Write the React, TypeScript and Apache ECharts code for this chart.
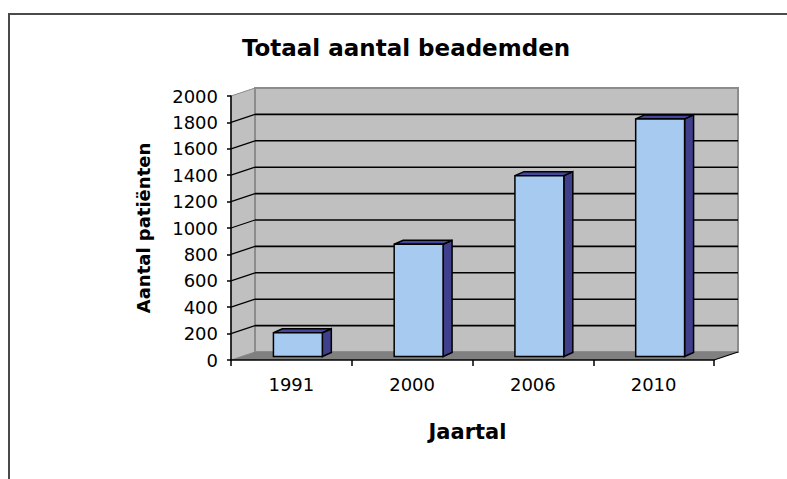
import React, { useEffect, useRef } from 'react';
import * as echarts from 'echarts';

const categories = ['1991', '2000', '2006', '2010'];
const patients = [180, 850, 1370, 1800];
const yTicks = [0, 200, 400, 600, 800, 1000, 1200, 1400, 1600, 1800, 2000];
const chartTitle = 'Totaal aantal beademden';
const xTitle = 'Jaartal';
const yTitle = 'Aantal patiënten';

const DX = 24;
const DY = -8;
const BAR_OX = 6.5;
const BAR_OY = -3.5;
const BAR_DX = 9;
const BAR_DY = -4;
const FONT = 'DejaVu Sans';

export default function App() {
  const ref = useRef<HTMLDivElement>(null);
  useEffect(() => {
    if (!ref.current) return;
    const chart = echarts.init(ref.current, null, { renderer: 'svg' });

    const renderWalls = (params: any, api: any) => {
      const cs = params.coordSys;
      const x0 = cs.x;
      const x1 = cs.x + cs.width;
      const yb = api.coord([0, yTicks[0]])[1];
      const yt = api.coord([0, yTicks[yTicks.length - 1]])[1];
      const children: any[] = [];
      children.push({
        type: 'polygon',
        shape: { points: [[x0, yb], [x0 + DX, yb + DY], [x0 + DX, yt + DY], [x0, yt]] },
        style: { fill: '#c0c0c0', stroke: '#8c8c8c', lineWidth: 1 },
      });
      children.push({
        type: 'polygon',
        shape: { points: [[x0 + DX, yt + DY], [x1 + DX, yt + DY], [x1 + DX, yb + DY], [x0 + DX, yb + DY]] },
        style: { fill: '#c0c0c0', stroke: '#8c8c8c', lineWidth: 2 },
      });
      children.push({
        type: 'polygon',
        shape: { points: [[x0, yb], [x1, yb], [x1 + DX, yb + DY], [x0 + DX, yb + DY]] },
        style: { fill: '#808080' },
      });
      for (let k = 1; k < yTicks.length - 1; k++) {
        const y = api.coord([0, yTicks[k]])[1];
        children.push({
          type: 'line',
          shape: { x1: x0 + DX, y1: y + DY, x2: x1 + DX, y2: y + DY },
          style: { stroke: '#000', lineWidth: 1.6 },
        });
        children.push({
          type: 'line',
          shape: { x1: x0, y1: y, x2: x0 + DX, y2: y + DY },
          style: { stroke: '#000', lineWidth: 1.3 },
        });
      }
      children.push({
        type: 'line',
        shape: { x1: x1, y1: yb, x2: x1 + DX, y2: yb + DY },
        style: { stroke: '#000', lineWidth: 1.3 },
      });
      return { type: 'group', children };
    };

    const renderBar = (params: any, api: any) => {
      const idx = api.value(0);
      const v = api.value(1);
      const base = api.coord([idx, 0]);
      const top = api.coord([idx, v]);
      const bw = api.size([1, 0])[0] * 0.405;
      const cx = base[0] + BAR_OX;
      const xl = cx - bw / 2;
      const xr = cx + bw / 2;
      const yb = base[1] + BAR_OY;
      const yt = top[1] + BAR_OY;
      const stroke = { stroke: '#000', lineWidth: 1.5, lineJoin: 'miter' };
      return {
        type: 'group',
        children: [
          {
            type: 'polygon',
            shape: { points: [[xr, yt], [xr + BAR_DX, yt + BAR_DY], [xr + BAR_DX, yb + BAR_DY], [xr, yb]] },
            style: { fill: '#3f3f8c', ...stroke },
          },
          {
            type: 'polygon',
            shape: { points: [[xl, yt], [xl + BAR_DX, yt + BAR_DY], [xr + BAR_DX, yt + BAR_DY], [xr, yt]] },
            style: { fill: '#46469c', ...stroke },
          },
          {
            type: 'rect',
            shape: { x: xl, y: yt, width: bw, height: yb - yt },
            style: { fill: '#a6caf0', ...stroke },
          },
        ],
      };
    };

    chart.setOption({
      animation: false,
      title: {
        text: chartTitle,
        left: 401,
        top: 31,
        textAlign: 'center',
        textStyle: { fontFamily: FONT, fontWeight: 'bold', fontSize: 23, color: '#000' },
      },
      grid: { left: 231, right: 73, top: 96, bottom: 119, containLabel: false },
      xAxis: {
        type: 'category',
        data: categories,
        z: 10,
        axisLine: { lineStyle: { color: '#000', width: 1.5 } },
        axisTick: { show: true, length: 6, lineStyle: { color: '#000', width: 1.5 } },
        axisLabel: { fontFamily: FONT, fontSize: 18, color: '#000', margin: 15 },
        splitLine: { show: false },
        name: xTitle,
        nameLocation: 'middle',
        nameGap: 61,
        nameTextStyle: {
          fontFamily: FONT,
          fontWeight: 'bold',
          fontSize: 21,
          color: '#000',
          padding: [0, 10, 0, 0],
        },
      },
      yAxis: {
        type: 'value',
        min: 0,
        max: 2000,
        interval: 200,
        z: 10,
        axisLine: { show: true, lineStyle: { color: '#000', width: 1.5 } },
        axisTick: { show: true, length: 4, lineStyle: { color: '#000', width: 1.5 } },
        axisLabel: {
          fontFamily: FONT,
          fontSize: 18,
          color: '#000',
          margin: 13,
          formatter: (v: number) => String(v),
        },
        splitLine: { show: false },
        name: yTitle,
        nameLocation: 'middle',
        nameRotate: 90,
        nameGap: 79,
        nameTextStyle: { fontFamily: FONT, fontWeight: 'bold', fontSize: 18, color: '#000' },
      },
      graphic: [
        {
          type: 'rect',
          shape: { x: 9, y: 14, width: 900, height: 600 },
          style: { fill: 'none', stroke: '#4a4a4a', lineWidth: 2 },
          silent: true,
        },
      ],
      series: [
        {
          type: 'custom',
          name: 'walls',
          z: 1,
          renderItem: renderWalls,
          data: [[0, 0]],
          silent: true,
        },
        {
          type: 'custom',
          name: yTitle,
          z: 3,
          renderItem: renderBar,
          data: patients.map((v, i) => [i, v]),
        },
      ],
    });
    return () => chart.dispose();
  }, []);
  return (
    <div
      ref={ref}
      style={{ position: 'fixed', left: 0, top: 0, width: 787, height: 479, background: '#fff' }}
    />
  );
}
